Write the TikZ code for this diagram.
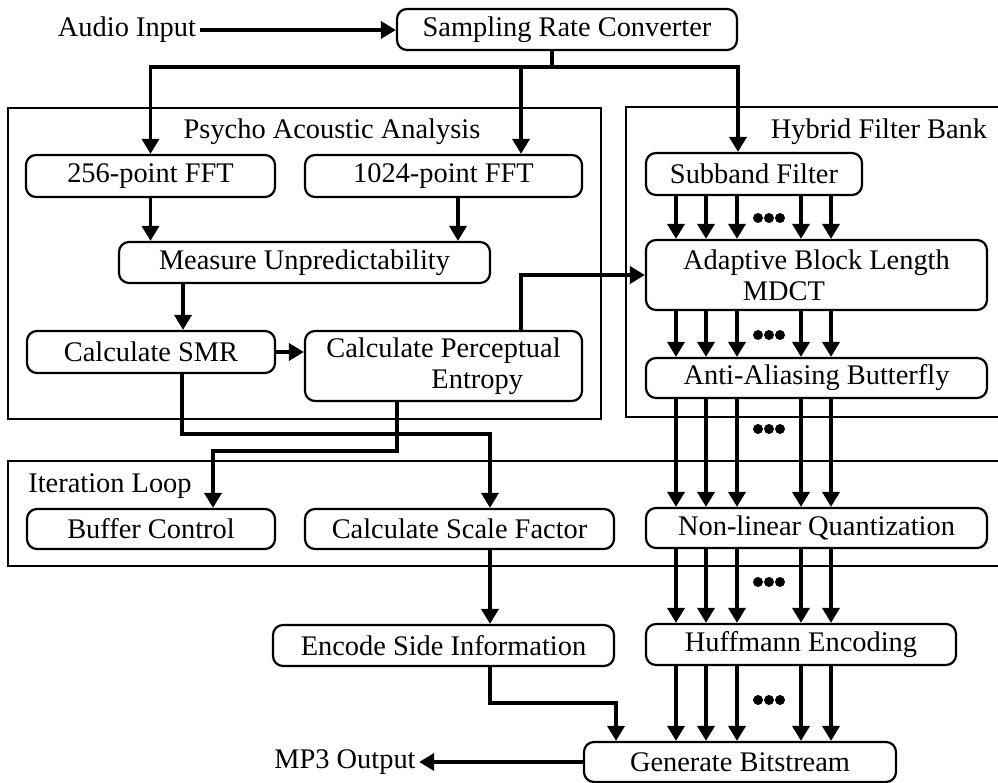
\documentclass[tikz,border=0pt]{standalone}
\usepackage{fontspec}
\setmainfont{Liberation Serif}
\usetikzlibrary{arrows.meta}

\begin{document}
\begin{tikzpicture}[%
  x=1pt, y=-1pt,
  font=\fontsize{28.4}{31}\selectfont,
  block/.style={draw, line width=2.2pt, rounded corners=10pt, minimum height=41pt, inner sep=0pt},
  frame/.style={line width=1.6pt},
  flow/.style={line width=3.5pt, -{Triangle[length=15pt,width=17pt]}},
  wire/.style={line width=3.5pt},
]
  \useasboundingbox (0,0) rectangle (998,783);

  % group frames
  \draw[frame] (8,108) rectangle (601,419);
  \draw[frame] (998,107) -- (626,107) -- (626,417) -- (998,417);
  \draw[frame] (998,461) -- (8,461) -- (8,566) -- (998,566);
  \node (paa) at (332,132) {Psycho Acoustic Analysis};
  \node (hfb) at (879,132) {Hybrid Filter Bank};
  \node (il) at (110,486) {Iteration Loop};

  % input and output
  \node (ai) at (127,30) {Audio Input};
  \node (mp3) at (345,762) {MP3 Output};

  \node[block, minimum width=340] (src) at (567,29.5) {Sampling Rate Converter};

  \node[block, minimum width=249, minimum height=42] (fft256) at (150.5,176) {256-point FFT};
  \node[block, minimum width=277, minimum height=42] (fft1024) at (443.5,176) {1024-point FFT};
  \node[block, minimum width=371] (mu) at (304.5,262.5) {Measure Unpredictability};
  \node[block, minimum width=248, minimum height=42] (smr) at (151,352) {Calculate SMR};
  \node[block, minimum width=277, minimum height=70, align=left] (cpe) at (443.5,366)
    {Calculate Perceptual\\\hspace*{3.7em}Entropy};

  \node[block, minimum width=216, minimum height=42] (sub) at (754,174) {Subband Filter};
  \node[block, minimum width=341, minimum height=70, align=left] (mdct) at (816.5,275)
    {Adaptive Block Length\\\hspace*{2.1em}MDCT};
  \node[block, minimum width=341, minimum height=40] (aab) at (816.5,378) {Anti-Aliasing Butterfly};

  \node[block, minimum width=248, minimum height=40] (bc) at (151,529) {Buffer Control};
  \node[block, minimum width=309, minimum height=40] (csf) at (459.5,529) {Calculate Scale Factor};
  \node[block, minimum width=341, minimum height=40] (nlq) at (816.5,528) {Non-linear Quantization};

  \node[block, minimum width=341] (esi) at (443.5,645.5) {Encode Side Information};
  \node[block, minimum width=310] (huff) at (801,644.5) {Huffmann Encoding};
  \node[block, minimum width=312, minimum height=40] (gb) at (740,762) {Generate Bitstream};

  % top part
  \draw[flow] (ai.east) -- (ai.east -| src.west);
  \coordinate (split) at (552,67);
  \draw[wire] (src.south -| split) -- (split);
  \draw[flow] (split) -| (fft256.north);
  \draw[flow] (split) -| (521,0 |- fft1024.north);
  \draw[flow] (split) -| (738,0 |- sub.north);

  % psycho acoustic analysis
  \draw[flow] (fft256.south) -- (fft256.south |- mu.north);
  \draw[flow] (458,0 |- fft1024.south) -- (458,0 |- mu.north);
  \draw[flow] (183,0 |- mu.south) -- (183,0 |- smr.north);
  \draw[flow] (smr.east) -- (smr.east -| cpe.west);
  \draw[flow] (521,0 |- cpe.north) |- (mdct.west);

  % filter bank channels
  \foreach \a/\b in {sub/mdct, mdct/aab, aab/nlq, nlq/huff, huff/gb}
    \foreach \x in {676,706,737,801,831}
      \draw[flow] (\x,0 |- \a.south) -- (\x,0 |- \b.north);
  \foreach \y in {218,335,429,582,700}
    \foreach \dx in {-11,0,11}
      \fill (769+\dx,\y) circle (5);

  % iteration loop
  \draw[flow] (182,0 |- smr.south) -- ++(0,60) -| (490,0 |- csf.north);
  \draw[flow] (397,0 |- cpe.south) -- ++(0,49) -| (213,0 |- bc.north);
  \draw[flow] (490,0 |- csf.south) -- (490,0 |- esi.north);
  \draw[flow] (490,0 |- esi.south) -- ++(0,36) -| (616,0 |- gb.north);
  \draw[flow] (gb.west) -- (gb.west -| mp3.east);

\end{tikzpicture}
\end{document}
